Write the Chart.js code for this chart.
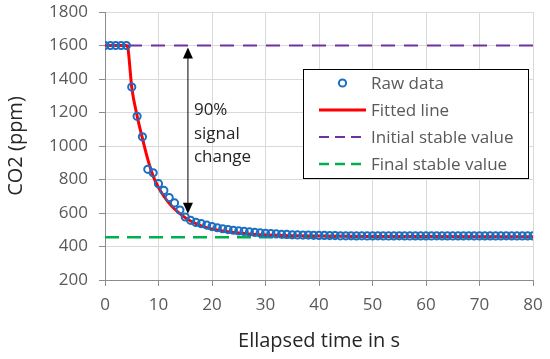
<!DOCTYPE html>
<html>
<head>
<meta charset="utf-8">
<script src="https://cdn.jsdelivr.net/npm/chart.js@4.4.1/dist/chart.umd.min.js"></script>
<style>
  html, body { margin: 0; padding: 0; background: #fff; }
  #wrap { width: 550px; height: 359px; position: relative; }
</style>
</head>
<body>
<div id="wrap"><canvas id="co2Chart"></canvas></div>
<script>
// --- data ---
const timeS = [
    0, 1, 2, 3, 4, 5, 6, 7, 8, 9, 10, 11, 12, 13, 14, 15, 16, 17, 18, 19, 20,
    21, 22, 23, 24, 25, 26, 27, 28, 29, 30, 31, 32, 33, 34, 35, 36, 37, 38, 39, 40,
    41, 42, 43, 44, 45, 46, 47, 48, 49, 50, 51, 52, 53, 54, 55, 56, 57, 58, 59, 60,
    61, 62, 63, 64, 65, 66, 67, 68, 69, 70, 71, 72, 73, 74, 75, 76, 77, 78, 79, 80
];
const rawCo2 = [
    1600, 1600, 1600, 1600, 1600, 1352, 1177, 1055, 861, 840, 775, 735, 692, 660, 618, 576, 556, 544, 536, 528, 519,
    512, 506, 501, 497, 493, 490, 487, 484, 481, 479, 477, 475, 473, 472, 470, 469, 468, 468, 467, 466,
    466, 465, 465, 464, 464, 464, 463, 464, 463, 463, 464, 463, 463, 463, 464, 463, 463, 463, 463, 463,
    463, 464, 463, 463, 463, 463, 463, 464, 463, 463, 463, 463, 463, 463, 464, 463, 463, 463, 463, 463
];
const fitT   = [0, 4, 4.3, 5, 6, 7, 8, 9, 10, 11, 12, 13, 14, 15, 16, 17, 18, 19, 20, 22, 24, 26, 28, 30, 35, 40, 50, 60, 80];
const fitCo2 = [1600, 1600, 1580, 1350, 1180, 1045, 920, 820, 752, 700, 658, 624, 596, 572, 552, 536, 523, 513, 505, 493, 484, 477, 472, 469, 464, 462, 460, 459, 458];
const stableT = [0, 80];
const initialStable = [1600, 1600];
const finalStable = [455, 455];

// 90 % arrow annotation (data units)
const arrowT = 15.5;
const arrowFrom = 1588;
const arrowTo = 595;
const arrowText = ['90%', 'signal', 'change'];

const xTicks = [0, 10, 20, 30, 40, 50, 60, 70, 80];
const yTicks = [200, 400, 600, 800, 1000, 1200, 1400, 1600, 1800];

const COLORS = {
    raw: '#1B6FC2',
    fit: '#FF0000',
    initial: '#7030A0',
    final: '#00B050',
    grid: '#D9D9D9',
    axis: '#8C8C8C',
    tick: '#595959',
    title: '#262626'
};
const FONT = "'Open Sans', sans-serif";

const toXY = (xs, ys) => xs.map((x, i) => ({ x, y: ys[i] }));

// legend + arrow drawn on the canvas
const extrasPlugin = {
    id: 'extras',
    afterDatasetsDraw(chart) {
        const { ctx, scales: { x, y } } = chart;
        ctx.save();
        // arrow
        const ax = x.getPixelForValue(arrowT);
        const y1 = y.getPixelForValue(arrowFrom);
        const y2 = y.getPixelForValue(arrowTo);
        ctx.strokeStyle = '#000';
        ctx.fillStyle = '#000';
        ctx.lineWidth = 1;
        ctx.beginPath();
        ctx.moveTo(ax, y1 + 8);
        ctx.lineTo(ax, y2 - 8);
        ctx.stroke();
        ctx.beginPath();
        ctx.moveTo(ax, y1); ctx.lineTo(ax - 5, y1 + 11); ctx.lineTo(ax + 5, y1 + 11); ctx.closePath();
        ctx.fill();
        ctx.beginPath();
        ctx.moveTo(ax, y2); ctx.lineTo(ax - 5, y2 - 11); ctx.lineTo(ax + 5, y2 - 11); ctx.closePath();
        ctx.fill();
        // arrow label
        ctx.font = '17px ' + FONT;
        ctx.fillStyle = COLORS.title;
        ctx.textAlign = 'left';
        ctx.textBaseline = 'middle';
        const mid = (y1 + y2) / 2 + 3;
        arrowText.forEach((t, i) => ctx.fillText(t, ax + 6, mid + (i - 1) * 23.5));

        // legend box
        const box = { l: 303, t: 69, r: 528, b: 178 };
        ctx.fillStyle = '#fff';
        ctx.fillRect(box.l, box.t, box.r - box.l, box.b - box.t);
        ctx.strokeStyle = '#000';
        ctx.lineWidth = 1;
        ctx.strokeRect(box.l + 0.5, box.t + 0.5, box.r - box.l, box.b - box.t);
        ctx.font = '17px ' + FONT;
        ctx.textBaseline = 'middle';
        chart.data.datasets.forEach((ds, i) => {
            const cy = box.t + 14 + i * 27;
            const sx1 = box.l + 16, sx2 = box.l + 63;
            if (ds.showLine === false) {
                ctx.beginPath();
                ctx.arc((sx1 + sx2) / 2, cy, ds.pointRadius, 0, Math.PI * 2);
                ctx.strokeStyle = ds.borderColor;
                ctx.lineWidth = ds.pointBorderWidth;
                ctx.stroke();
            } else {
                ctx.beginPath();
                ctx.setLineDash(ds.borderDash && ds.borderDash.length ? [10, 6] : []);
                ctx.moveTo(sx1, cy);
                ctx.lineTo(sx2, cy);
                ctx.strokeStyle = ds.borderColor;
                ctx.lineWidth = ds.borderWidth;
                ctx.stroke();
                ctx.setLineDash([]);
            }
            ctx.fillStyle = COLORS.tick;
            ctx.fillText(ds.label, box.l + 68, cy + 1);
        });
        ctx.restore();
    }
};

new Chart(document.getElementById('co2Chart'), {
    type: 'scatter',
    data: {
        datasets: [
            {
                label: 'Raw data', data: toXY(timeS, rawCo2), showLine: false,
                borderColor: COLORS.raw, backgroundColor: 'transparent',
                pointRadius: 3.6, pointBorderWidth: 2, pointHoverRadius: 3.6, order: 0
            },
            {
                label: 'Fitted line', data: toXY(fitT, fitCo2), showLine: true,
                borderColor: COLORS.fit, borderWidth: 3, pointRadius: 0,
                cubicInterpolationMode: 'monotone', order: 1
            },
            {
                label: 'Initial stable value', data: toXY(stableT, initialStable), showLine: true,
                borderColor: COLORS.initial, borderWidth: 2, borderDash: [14, 9], pointRadius: 0, order: 2
            },
            {
                label: 'Final stable value', data: toXY(stableT, finalStable), showLine: true,
                borderColor: COLORS.final, borderWidth: 2.5, borderDash: [14, 8], pointRadius: 0, order: 3
            }
        ]
    },
    options: {
        responsive: true, maintainAspectRatio: false, animation: false,
        layout: { padding: { top: 12, right: 17, left: 0, bottom: 0 } },
        plugins: { legend: { display: false }, tooltip: { enabled: false } },
        scales: {
            x: {
                type: 'linear', min: 0, max: 80,
                afterBuildTicks: s => { s.ticks = xTicks.map(v => ({ value: v })); },
                afterFit: s => { s.height = 79; s.paddingRight = 0; s.paddingLeft = 0; },
                grid: { color: COLORS.grid, tickColor: COLORS.axis, tickLength: 6 },
                border: { color: COLORS.axis },
                ticks: { color: COLORS.tick, font: { family: FONT, size: 17 }, padding: 9, maxRotation: 0, callback: v => String(v) },
                title: { display: true, text: 'Ellapsed time in s', color: COLORS.title, font: { family: FONT, size: 20 }, padding: { top: 0, bottom: 6 } }
            },
            y: {
                type: 'linear', min: 200, max: 1800,
                afterBuildTicks: s => { s.ticks = yTicks.map(v => ({ value: v })); },
                afterFit: s => { s.width = 105; s.paddingTop = 0; s.paddingBottom = 0; },
                grid: { color: COLORS.grid, tickColor: COLORS.axis, tickLength: 6 },
                border: { color: COLORS.axis },
                ticks: { color: COLORS.tick, font: { family: FONT, size: 17 }, padding: 11, callback: v => String(v) },
                title: { display: true, text: 'CO2 (ppm)', color: COLORS.title, font: { family: FONT, size: 20 }, padding: { top: 4, bottom: 4 } }
            }
        }
    },
    plugins: [extrasPlugin]
});
</script>
</body>
</html>
